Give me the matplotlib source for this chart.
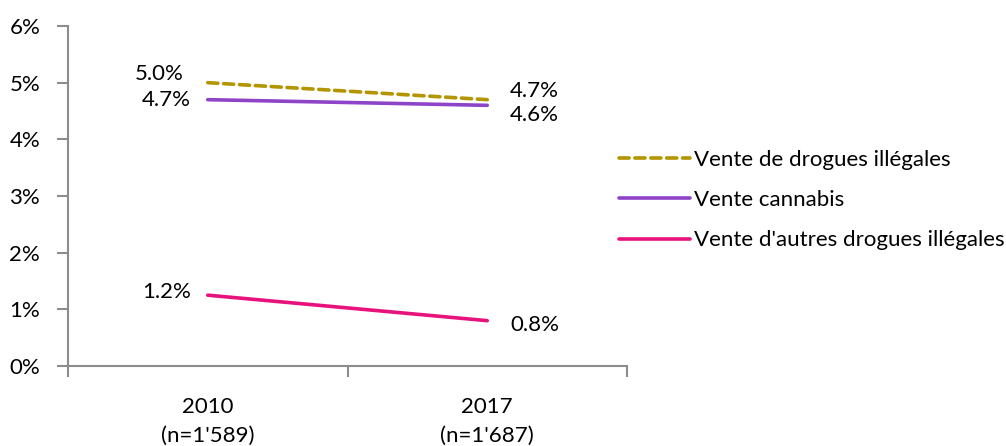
import numpy as np
import matplotlib.pyplot as plt
from matplotlib.ticker import FuncFormatter

plt.rcParams['font.family'] = ['Lato', 'DejaVu Sans']

# data
categories = ["2010\n(n=1'589)", "2017\n(n=1'687)"]
series_names = ["Vente de drogues illégales", "Vente cannabis",
                "Vente d'autres drogues illégales"]
vente_drogues = [5.0, 4.7]
vente_cannabis = [4.7, 4.6]
vente_autres = [1.25, 0.8]

colors = ['#B39500', '#8E44C8', '#E8127C']
styles = ['--', '-', '-']

fig = plt.figure(figsize=(10.06, 4.46), dpi=100)
ax = fig.add_axes([68 / 1006, 80 / 446, 559 / 1006, 340 / 446])

x = np.arange(len(categories))
all_series = [vente_drogues, vente_cannabis, vente_autres]
for vals, name, c, ls in zip(all_series, series_names, colors, styles):
    if ls == '--':
        ax.plot(x, vals, color=c, linewidth=2.6, dashes=(2.8, 1.6), label=name,
                dash_capstyle='round')
    else:
        ax.plot(x, vals, color=c, linewidth=2.6, label=name, solid_capstyle='round')

# data labels, offsets in points
lbl_off = {0: [(-17, 6), (16.5, 6)], 1: [(-12, 0), (16.5, -7)], 2: [(-12, 2), (16.5, -3)]}
for i, vals in enumerate(all_series):
    for j, v in enumerate(vals):
        dx, dy = lbl_off[i][j]
        ax.annotate(f'{v:.1f}%', (x[j], v), xytext=(dx, dy), textcoords='offset points',
                    ha='right' if j == 0 else 'left', va='center', fontsize=16)

ax.set_xlim(-0.5, 1.5)
ax.set_ylim(0, 6)
ax.set_yticks(range(0, 7))
ax.yaxis.set_major_formatter(FuncFormatter(lambda v, p: f'{v:.0f}%'))
ax.set_xticks([-0.5, 0.5, 1.5])
ax.set_xticklabels([])
ax.set_xticks(x, minor=True)
ax.set_xticklabels(categories, minor=True, fontsize=16, linespacing=1.6)
ax.tick_params(axis='x', which='minor', length=0, pad=22)
ax.tick_params(axis='x', which='major', direction='out', length=8, color='#8C8C8C', width=1.5)
ax.tick_params(axis='y', direction='out', length=8, color='#8C8C8C', width=1.5,
               labelsize=16, pad=12)

for s in ['top', 'right']:
    ax.spines[s].set_visible(False)
for s in ['left', 'bottom']:
    ax.spines[s].set_color('#8C8C8C')
    ax.spines[s].set_linewidth(1.5)

ax.legend(loc='center left', bbox_to_anchor=(610 / 1006, 246 / 446),
          bbox_transform=fig.transFigure, frameon=False, fontsize=16,
          handlelength=3.2, handletextpad=0.2, labelspacing=0.92, borderaxespad=0)

fig.savefig('out.png', dpi=100)
